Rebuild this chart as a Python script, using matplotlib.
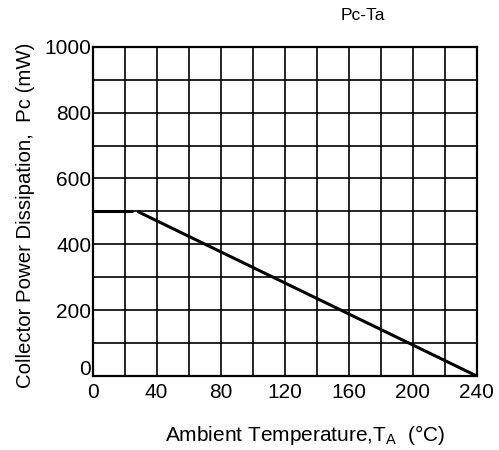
import matplotlib
matplotlib.use("Agg")
import matplotlib.pyplot as plt
import matplotlib.transforms as mtransforms
import numpy as np

plt.rcParams['font.family'] = ['Liberation Sans', 'DejaVu Sans']
plt.rcParams['mathtext.fontset'] = 'custom'
plt.rcParams['mathtext.rm'] = 'Liberation Sans'

# Data
flat_temp = [0, 25]
flat_power = [500, 500]
derate_temp = [28, 240]
derate_power = [500, 0]
x_major = [0, 40, 80, 120, 160, 200, 240]
x_minor = list(range(0, 241, 20))
y_major = [0, 200, 400, 600, 800, 1000]
y_minor = list(range(0, 1001, 100))

fig = plt.figure(figsize=(4.99, 4.50), dpi=100)
ax = fig.add_axes([0.1854, 0.1644, 0.770, 0.7318])

ax.set_xlim(0, 240)
ax.set_ylim(0, 1000)
ax.set_xticks(x_major)
ax.set_xticks(x_minor, minor=True)
ax.set_yticks(y_major)
ax.set_yticks(y_minor, minor=True)
ax.grid(True, which='both', color='black', linewidth=1.2)
ax.set_axisbelow(True)
ax.tick_params(which='both', length=0)
ax.tick_params(axis='x', labelsize=15, pad=5)
ax.tick_params(axis='y', labelsize=15, pad=1)

for s in ax.spines.values():
    s.set_linewidth(1.6)
    s.set_color('black')

ax.plot(flat_temp, flat_power, color='black', linewidth=2.2, solid_capstyle='butt')
ax.plot(derate_temp, derate_power, color='black', linewidth=2.2, solid_capstyle='butt')

ax.set_xlabel(r'Ambient Temperature,T$_\mathregular{A}$  (°C)', fontsize=15)
ax.xaxis.set_label_coords(0.553, -0.143)
ax.set_ylabel('Collector Power Dissipation,  Pc (mW)', fontsize=14.7)
ax.yaxis.set_label_coords(-0.15, 0.489)
fig.text(363/499, 1 - 15/450, 'Pc-Ta', fontsize=12.5, ha='center', va='center')

fig.canvas.draw()
ylabels = ax.get_yticklabels()
ylabels[0].set_transform(ylabels[0].get_transform() +
                         mtransforms.ScaledTranslation(0, 9/100, fig.dpi_scale_trans))

fig.savefig('out.png', dpi=100)
